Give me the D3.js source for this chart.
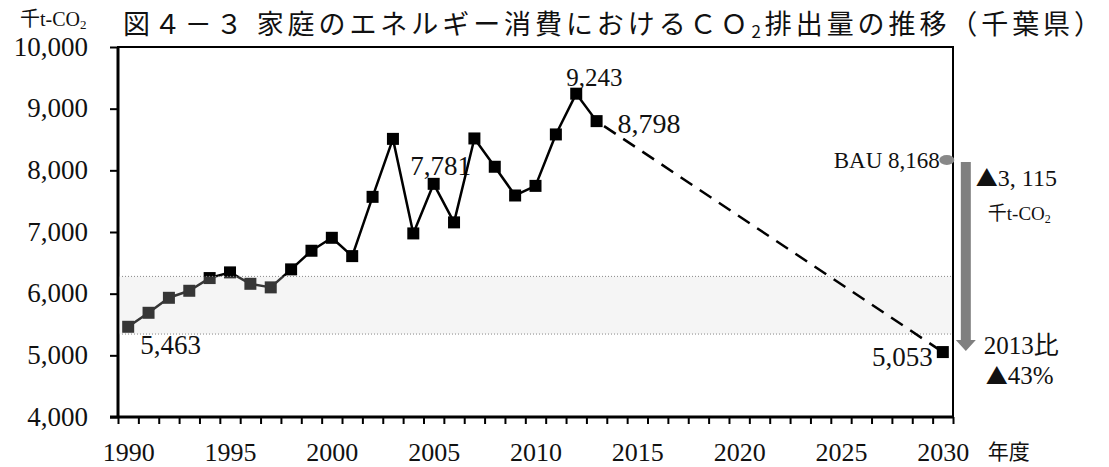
<!DOCTYPE html>
<html lang="ja">
<head>
<meta charset="utf-8">
<script src="https://cdn.jsdelivr.net/npm/d3@7"></script>
<style>
  html, body { margin: 0; padding: 0; background: #fff; }
  svg { display: block; }
  .serif { font-family: 'Liberation Serif', 'Noto Sans CJK JP', serif; fill: #111; }
  .gothic { font-family: 'Noto Sans CJK JP', sans-serif; fill: #111; }
  .tri { font-family: 'Noto Sans CJK JP', sans-serif; }
</style>
</head>
<body>
<svg id="chart" width="1109" height="467"></svg>
<script>
// 千葉県 家庭部門 CO2 排出量（千t-CO2）
const years = [1990, 1991, 1992, 1993, 1994, 1995, 1996, 1997, 1998, 1999, 2000, 2001,
  2002, 2003, 2004, 2005, 2006, 2007, 2008, 2009, 2010, 2011, 2012, 2013]
const emissions = [5463, 5690, 5933, 6047, 6253, 6345, 6160, 6102, 6394, 6696, 6906, 6609,
  7570, 8510, 6977, 7781, 7156, 8517, 8058, 7592, 7748, 8582, 9243, 8798]
const targetYear = 2030
const targetValue = 5053
const bauValue = 8168
const baseYear = 2013
const shadedRange = [5345, 6280]
const labelledYears = [1990, 2005, 2012, 2013]
const xTickLabels = [1990, 1995, 2000, 2005, 2010, 2015, 2020, 2025, 2030]
const yTickValues = [4000, 5000, 6000, 7000, 8000, 9000, 10000]

const svg = d3.select('#chart')
const plot = { left: 118, right: 953, top: 47, bottom: 417 }

const x = d3.scaleLinear().domain([1989.5, 2030.5]).range([plot.left, plot.right])
const y = d3.scaleLinear().domain([4000, 10000]).range([plot.bottom, plot.top])
const fmt = d3.format(',')
const points = years.map((yr, i) => ({ year: yr, value: emissions[i] }))

// title
const title = svg.append('text')
  .attr('class', 'gothic')
  .attr('x', 123)
  .attr('y', 34)
  .attr('font-size', 27)
  .attr('textLength', 978)
  .attr('lengthAdjust', 'spacing')
title.append('tspan').text('図４－３ 家庭のエネルギー消費におけるＣＯ')
title.append('tspan').attr('font-size', 17).attr('dy', 4).text('2')
title.append('tspan').attr('dy', -4).text('排出量の推移（千葉県）')

// unit
const unit = svg.append('text')
  .attr('class', 'serif')
  .attr('x', 20)
  .attr('y', 26)
  .attr('font-size', 20)
  .attr('fill', '#333')
unit.append('tspan').text('千t-CO')
unit.append('tspan').attr('font-size', 13).attr('dy', 3).text('2')

// y axis
const yAxis = svg.append('g')
  .attr('transform', `translate(${plot.left},0)`)
  .call(d3.axisLeft(y).tickValues(yTickValues).tickSize(8).tickPadding(22).tickFormat(fmt))
yAxis.select('.domain').remove()
yAxis.selectAll('line').attr('stroke', '#000').attr('stroke-width', 2)
yAxis.selectAll('text')
  .attr('class', 'serif')
  .attr('font-size', 27)
  .attr('dy', '0.3em')

// x axis: ticks on category boundaries, labels on categories
const boundaries = d3.range(1989.5, 2031, 1)
const xTicks = svg.append('g')
  .attr('transform', `translate(0,${plot.bottom})`)
  .call(d3.axisBottom(x).tickValues(boundaries).tickSize(7).tickFormat(''))
xTicks.select('.domain').remove()
xTicks.selectAll('line').attr('stroke', '#000').attr('stroke-width', 2)

const xLabels = svg.append('g')
  .attr('transform', `translate(0,${plot.bottom})`)
  .call(d3.axisBottom(x).tickValues(xTickLabels).tickSize(0).tickPadding(26).tickFormat(String))
xLabels.select('.domain').remove()
xLabels.selectAll('text')
  .attr('class', 'serif')
  .attr('font-size', 26)

svg.append('text')
  .attr('class', 'gothic')
  .attr('x', x(targetYear) + 45)
  .attr('y', 459)
  .attr('font-size', 21)
  .text('年度')

// frame
svg.append('rect')
  .attr('x', plot.left).attr('y', plot.top)
  .attr('width', plot.right - plot.left).attr('height', plot.bottom - plot.top)
  .attr('fill', 'none').attr('stroke', '#000').attr('stroke-width', 2)
svg.append('line')
  .attr('x1', plot.left).attr('x2', plot.left).attr('y1', plot.top).attr('y2', plot.bottom + 1)
  .attr('stroke', '#000').attr('stroke-width', 3)
svg.append('line')
  .attr('x1', plot.left - 8).attr('x2', plot.right).attr('y1', plot.bottom).attr('y2', plot.bottom)
  .attr('stroke', '#000').attr('stroke-width', 3)

// value labels (drawn under the line)
const labelStyle = {
  1990: { dx: 12, dy: 27, anchor: 'start', size: 27 },
  2005: { dx: 7, dy: -9, anchor: 'middle', size: 27 },
  2012: { dx: -10, dy: -8, anchor: 'start', size: 25 },
  2013: { dx: 21, dy: 12, anchor: 'start', size: 28 }
}
svg.append('g')
  .selectAll('text')
  .data(points.filter((d) => labelledYears.includes(d.year)))
  .join('text')
  .attr('class', 'serif')
  .attr('x', (d) => x(d.year) + labelStyle[d.year].dx)
  .attr('y', (d) => y(d.value) + labelStyle[d.year].dy)
  .attr('text-anchor', (d) => labelStyle[d.year].anchor)
  .attr('font-size', (d) => labelStyle[d.year].size)
  .text((d) => fmt(d.value))

// actual series
const line = d3.line().x((d) => x(d.year)).y((d) => y(d.value))
svg.append('path')
  .datum(points)
  .attr('d', line)
  .attr('fill', 'none')
  .attr('stroke', '#000')
  .attr('stroke-width', 2.5)
  .attr('stroke-linejoin', 'round')

svg.append('g')
  .selectAll('rect')
  .data(points)
  .join('rect')
  .attr('x', (d) => x(d.year) - 6)
  .attr('y', (d) => y(d.value) - 6)
  .attr('width', 12)
  .attr('height', 12)
  .attr('fill', '#000')

// shaded band over the early years
svg.append('rect')
  .attr('x', plot.left + 1)
  .attr('y', y(shadedRange[1]))
  .attr('width', plot.right - plot.left - 2)
  .attr('height', y(shadedRange[0]) - y(shadedRange[1]))
  .attr('fill', '#d8d8d8')
  .attr('fill-opacity', 0.25)
for (const v of shadedRange) {
  svg.append('line')
    .attr('x1', plot.left + 1).attr('x2', plot.right - 1)
    .attr('y1', y(v)).attr('y2', y(v))
    .attr('stroke', '#888').attr('stroke-width', 1)
    .attr('stroke-dasharray', '1 2')
}

// projection to target year
const last = points[points.length - 1]
const target = { year: targetYear, value: targetValue }
svg.append('path')
  .datum([last, target])
  .attr('d', line)
  .attr('fill', 'none')
  .attr('stroke', '#000')
  .attr('stroke-width', 2.5)
  .attr('stroke-dasharray', '14 9')
  .attr('stroke-dashoffset', 14)

svg.append('rect')
  .attr('x', x(targetYear) - 6)
  .attr('y', y(targetValue) - 6)
  .attr('width', 12)
  .attr('height', 12)
  .attr('fill', '#000')
svg.append('text')
  .attr('class', 'serif')
  .attr('x', x(targetYear) - 10)
  .attr('y', y(targetValue) + 14)
  .attr('text-anchor', 'end')
  .attr('font-size', 27)
  .text(fmt(targetValue))

// BAU marker
const bauX = x(targetYear) + 4
svg.append('ellipse')
  .attr('cx', bauX)
  .attr('cy', y(bauValue))
  .attr('rx', 7.5)
  .attr('ry', 5)
  .attr('fill', '#888')
svg.append('text')
  .attr('class', 'serif')
  .attr('x', bauX - 7)
  .attr('y', y(bauValue) + 8)
  .attr('text-anchor', 'end')
  .attr('font-size', 23)
  .text(`BAU ${fmt(bauValue)}`)

// reduction arrow
const arrowX = x(targetYear) + 23
const arrowTop = y(bauValue) + 2
const arrowTip = y(targetValue) - 1
const headTop = arrowTip - 11
svg.append('path')
  .attr('d', `M${arrowX - 5},${arrowTop} L${arrowX + 5},${arrowTop} L${arrowX + 5},${headTop}` +
    ` L${arrowX + 10},${headTop} L${arrowX},${arrowTip} L${arrowX - 10},${headTop}` +
    ` L${arrowX - 5},${headTop} Z`)
  .attr('fill', '#808080')

const reduction = bauValue - targetValue
const rate = Math.round((1 - targetValue / last.value) * 100)
const redText = svg.append('text')
  .attr('class', 'serif')
  .attr('x', arrowX + 10)
  .attr('y', y(bauValue) + 26)
  .attr('font-size', 24)
redText.append('tspan').attr('class', 'tri').attr('font-size', 22).text('▲')
redText.append('tspan').text(fmt(reduction).replace(',', ', '))
const unit2 = svg.append('text')
  .attr('class', 'serif')
  .attr('x', arrowX + 22)
  .attr('y', y(bauValue) + 60)
  .attr('font-size', 19)
  .attr('fill', '#333')
unit2.append('tspan').text('千t-CO')
unit2.append('tspan').attr('font-size', 12).attr('dy', 3).text('2')

svg.append('text')
  .attr('class', 'serif')
  .attr('x', arrowX + 18)
  .attr('y', y(targetValue) + 2)
  .attr('font-size', 25)
  .text(`${baseYear}比`)
const rateText = svg.append('text')
  .attr('class', 'serif')
  .attr('x', arrowX + 20)
  .attr('y', y(targetValue) + 32)
  .attr('font-size', 25)
rateText.append('tspan').attr('class', 'tri').attr('font-size', 22).text('▲')
rateText.append('tspan').text(`${rate}%`)
</script>
</body>
</html>
